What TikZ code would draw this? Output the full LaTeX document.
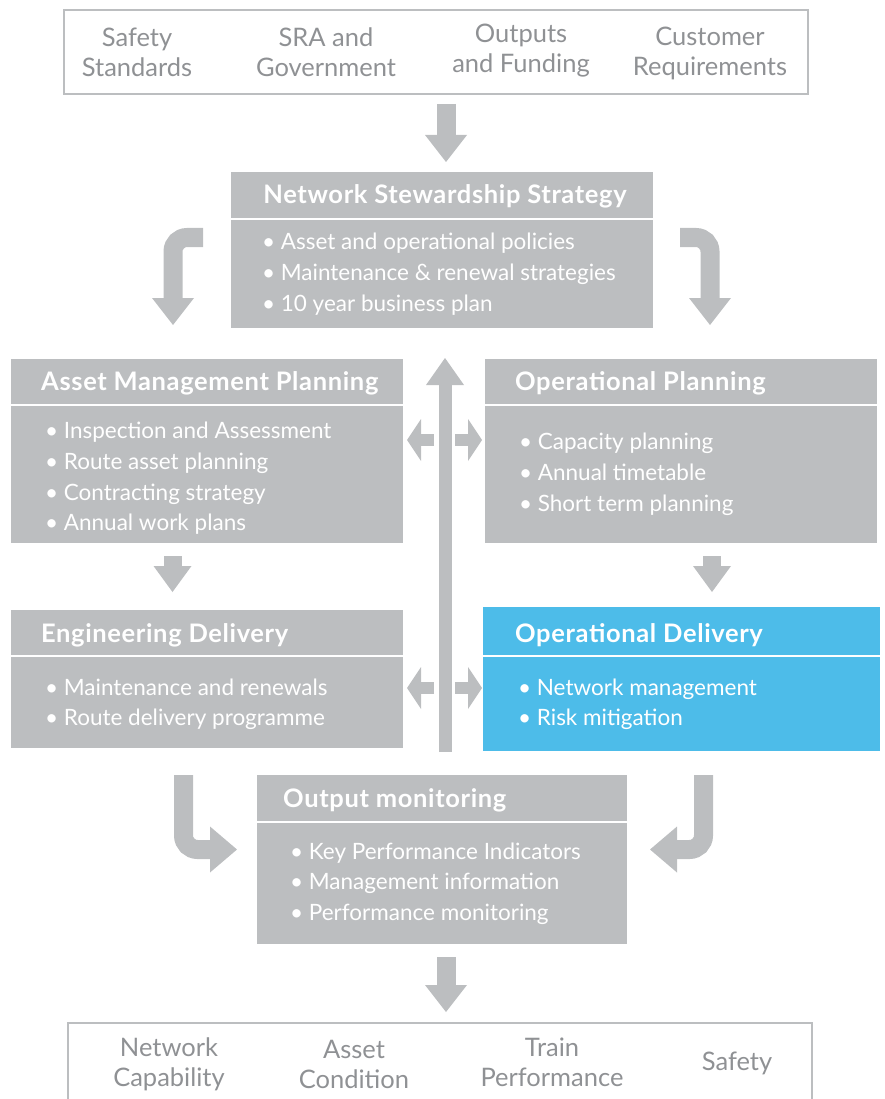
\documentclass[tikz,border=0pt]{standalone}
\usepackage{fontspec}
\setmainfont{Lato}
\usetikzlibrary{arrows.meta,calc}
\definecolor{boxgrey}{HTML}{BCBEC0}
\definecolor{opblue}{HTML}{4DBCE9}
\definecolor{labelgrey}{HTML}{8F9194}
\newcommand\itm{\textbullet\hspace{0.25em}}
\begin{document}
\begin{tikzpicture}[x=1pt,y=-1pt,
  panel/.style={fill=boxgrey, draw=none, anchor=north west, inner sep=0pt, outer sep=0pt},
  outline/.style={draw=boxgrey, line width=2.5pt, anchor=north west, inner sep=0pt, outer sep=0pt},
  sepline/.style={draw=white, line width=1.5pt},
  title/.style={anchor=base west, text=white, font=\bfseries\fontsize{25.5}{29}\selectfont\addfontfeatures{LetterSpace=2.5}, inner sep=0pt},
  item/.style={anchor=base west, text=white, font=\fontsize{22.5}{26}\selectfont, inner sep=0pt},
  label/.style={text=labelgrey, font=\fontsize{25.5}{30}\selectfont, align=center, inner sep=0pt},
  blockarrow/.style={draw=boxgrey, line width=19pt,
    -{Triangle[width=42pt,length=27pt,line width=0pt]}},
  sidearrow/.style={draw=boxgrey, line width=12pt,
    -{Triangle[width=42pt,length=14pt,line width=0pt]}},
]
\useasboundingbox (0,0) rectangle (884,1099);

% inputs
\node[outline, minimum width=744pt, minimum height=84pt] (inputs) at (64,10) {};
\node[label] (in1) at (137,52) {Safety\\Standards};
\node[label] (in2) at (326,52) {SRA and\\Government};
\node[label] (in3) at (521,51) {Outputs\\and Funding};
\node[label] (in4) at (710,53) {Customer\\Requirements};

% network stewardship strategy
\node[panel, minimum width=422pt, minimum height=156pt] (nss) at (231,172) {};
\draw[sepline] ($(nss.north west)+(0,47)$) -- ($(nss.north east)+(0,47)$);
\node[title, anchor=base] (nssT) at (445,204) {Network Stewardship Strategy};
\node[item] (nss1) at (262,250) {\itm Asset and operational policies};
\node[item] (nss2) at (262,280) {\itm Maintenance \& renewal strategies};
\node[item] (nss3) at (262,311) {\itm 10 year business plan};

% asset management planning
\node[panel, minimum width=392pt, minimum height=184pt] (amp) at (11,359) {};
\draw[sepline] ($(amp.north west)+(0,46)$) -- ($(amp.north east)+(0,46)$);
\node[title] (ampT) at (41,390) {Asset Management Planning};
\node[item] (amp1) at (45,438) {\itm Inspection and Assessment};
\node[item] (amp2) at (45,469) {\itm Route asset planning};
\node[item] (amp3) at (45,500) {\itm Contracting strategy};
\node[item] (amp4) at (45,530) {\itm Annual work plans};

% operational planning
\node[panel, minimum width=392pt, minimum height=184pt] (op) at (485,359) {};
\draw[sepline] ($(op.north west)+(0,46)$) -- ($(op.north east)+(0,46)$);
\node[title] (opT) at (515,390) {Operational Planning};
\node[item] (op1) at (519,449) {\itm Capacity planning};
\node[item] (op2) at (519,480) {\itm Annual timetable};
\node[item] (op3) at (519,511) {\itm Short term planning};

% engineering delivery
\node[panel, minimum width=392pt, minimum height=138pt] (ed) at (11,610) {};
\draw[sepline] ($(ed.north west)+(0,46)$) -- ($(ed.north east)+(0,46)$);
\node[title] (edT) at (41,642) {Engineering Delivery};
\node[item] (ed1) at (45,695) {\itm Maintenance and renewals};
\node[item] (ed2) at (45,725) {\itm Route delivery programme};

% operational delivery
\node[panel, fill=opblue, minimum width=397pt, minimum height=144pt] (od) at (483,607) {};
\draw[sepline] ($(od.north west)+(0,49)$) -- ($(od.north east)+(0,49)$);
\node[title] (odT) at (515,642) {Operational Delivery};
\node[item] (od1) at (518,695) {\itm Network management};
\node[item] (od2) at (518,725) {\itm Risk mitigation};

% output monitoring
\node[panel, minimum width=370pt, minimum height=169pt] (om) at (257,775) {};
\draw[sepline] ($(om.north west)+(0,47)$) -- ($(om.north east)+(0,47)$);
\node[title] (omT) at (283,807) {Output monitoring};
\node[item] (om1) at (290,859) {\itm Key Performance Indicators};
\node[item] (om2) at (290,889) {\itm Management information};
\node[item] (om3) at (290,920) {\itm Performance monitoring};

% outputs (box runs past the lower edge)
\node[outline, minimum width=744pt, minimum height=100pt] (outputs) at (68,1023) {};
\node[label] (out1) at (169,1064) {Network\\Capability};
\node[label] (out2) at (354,1064) {Asset\\Condition};
\node[label] (out3) at (552,1062) {Train\\Performance};
\node[label] (out4) at (737,1063) {Safety};

% arrow end points
\coordinate (inFoot) at (446,104);
\coordinate (nssTop) at (446,162);
\coordinate (nssL) at (203,237.5);
\coordinate (ampIn) at (173,325);
\coordinate (nssR) at (680,237.5);
\coordinate (opIn) at (710,325);
\coordinate (edOut) at (183.5,775);
\coordinate (omInL) at (237,849.5);
\coordinate (odOut) at (703.5,775);
\coordinate (omInR) at (650,849.5);
\coordinate (omFoot) at (446,957);
\coordinate (outTop) at (446,1012);
\coordinate (fbFoot) at (445,752);
\coordinate (fbHead) at (445,358);

% main flow
\draw[blockarrow] (inFoot) -- (nssTop);
\draw[blockarrow, rounded corners=14pt] (nssL) -| (ampIn);
\draw[blockarrow, rounded corners=14pt] (nssR) -| (opIn);
\draw[blockarrow, line width=18pt, -{Triangle[width=38pt,length=26pt,line width=0pt]}]
  (172.5,556) -- (172.5,592);
\draw[blockarrow, line width=18pt, -{Triangle[width=38pt,length=26pt,line width=0pt]}]
  (712,556) -- (712,592);
\draw[blockarrow, rounded corners=14pt, -{Triangle[width=46pt,length=27pt,line width=0pt]}]
  (edOut) |- (omInL);
\draw[blockarrow, rounded corners=14pt, -{Triangle[width=46pt,length=27pt,line width=0pt]}]
  (odOut) |- (omInR);
\draw[blockarrow] (omFoot) -- (outTop);

% feedback spine with side arrows
\draw[blockarrow, line width=13pt, -{Triangle[width=38pt,length=27pt,line width=0pt]}]
  (fbFoot) -- (fbHead);
\draw[sidearrow] (434,440) -- (407,440);
\draw[sidearrow] (455,440) -- (482,440);
\draw[sidearrow] (434,688) -- (407,688);
\draw[sidearrow] (455,688) -- (482,688);
\end{tikzpicture}
\end{document}
